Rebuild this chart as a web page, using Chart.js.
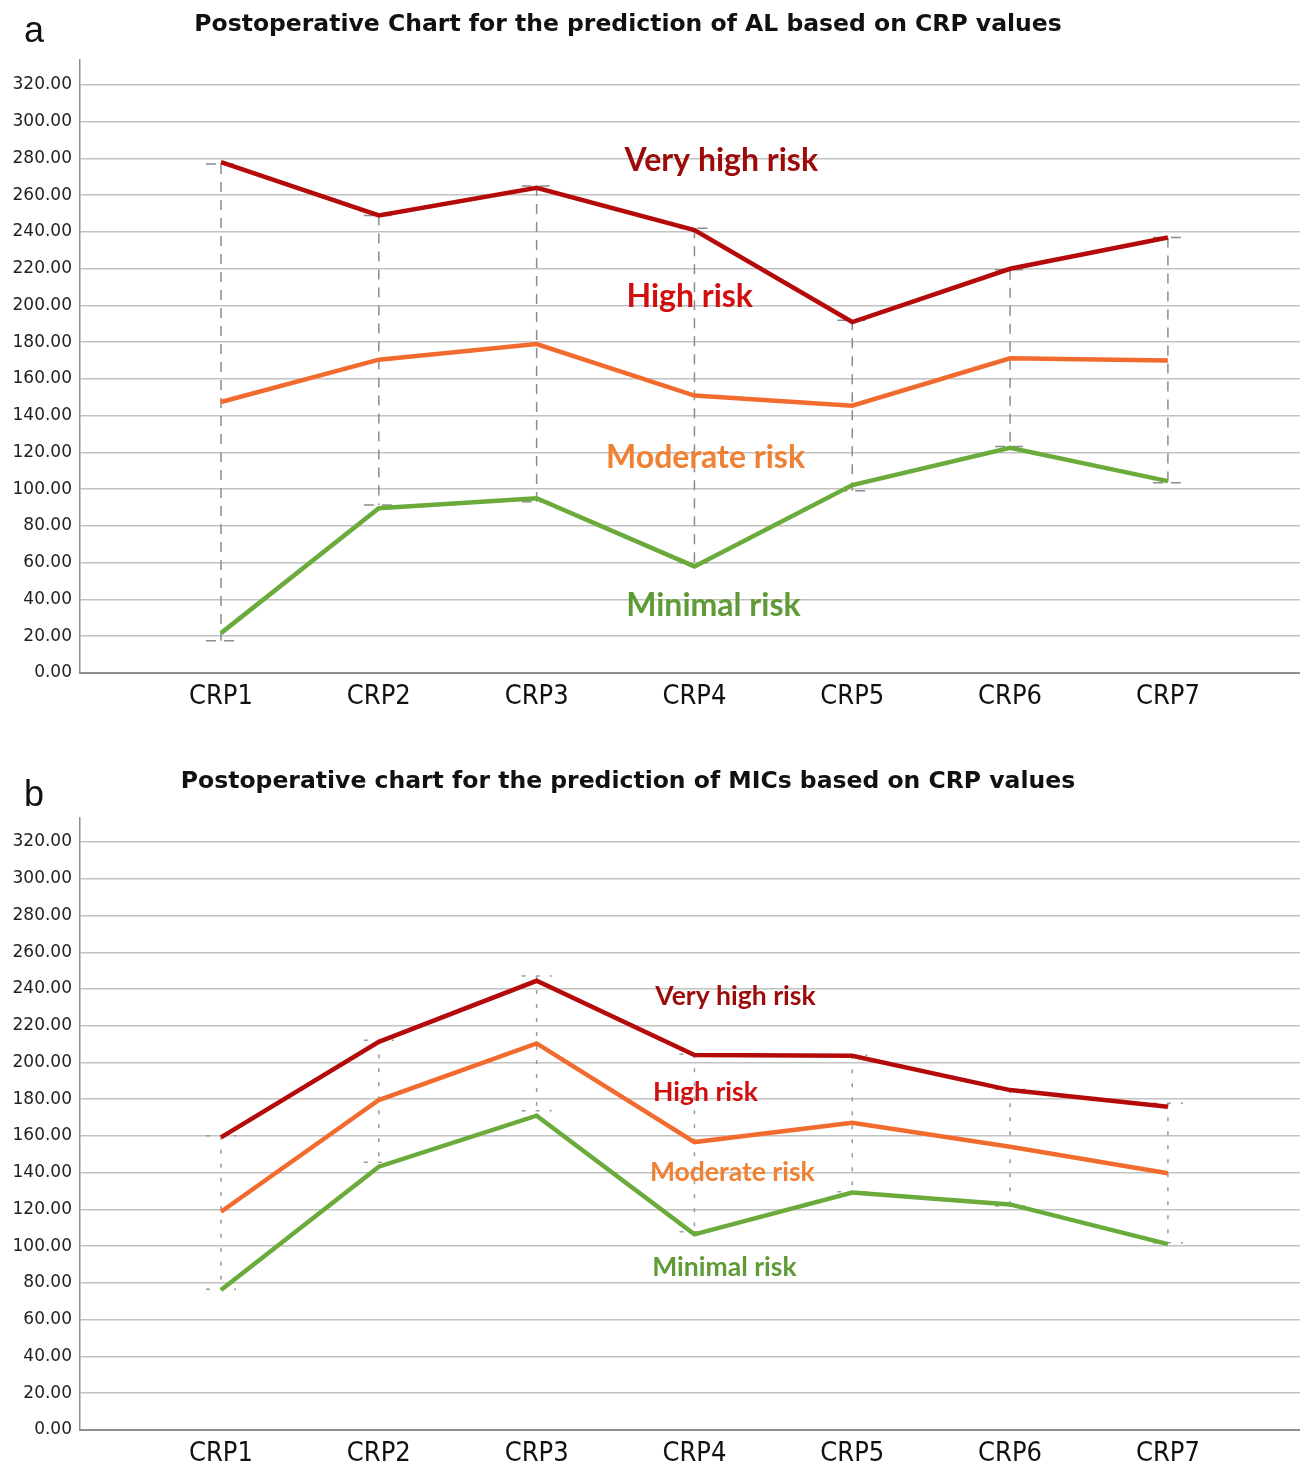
<!DOCTYPE html>
<html>
<head>
<meta charset="utf-8">
<script src="https://cdn.jsdelivr.net/npm/chart.js@4.4.1/dist/chart.umd.min.js"></script>
<style>
  html, body { margin: 0; padding: 0; background: #ffffff; }
  body { width: 1300px; height: 1465px; position: relative; overflow: hidden; }
  .panel { position: absolute; left: 0; width: 1300px; }
  #pa { top: 0; height: 740px; }
  #pb { top: 760px; height: 705px; }
</style>
</head>
<body>
<div class="panel" id="pa"><canvas id="chartA"></canvas></div>
<div class="panel" id="pb"><canvas id="chartB"></canvas></div>
<script>
// ---------- data ----------
const categories = ['CRP1', 'CRP2', 'CRP3', 'CRP4', 'CRP5', 'CRP6', 'CRP7'];
const yTickValues = [0, 20, 40, 60, 80, 100, 120, 140, 160, 180, 200, 220, 240, 260, 280, 300, 320];
const riskLabels = ['Very high risk', 'High risk', 'Moderate risk', 'Minimal risk'];

const titleA = 'Postoperative Chart for the prediction of AL based on CRP values';
const titleB = 'Postoperative chart for the prediction of MICs based on CRP values';

// Panel a (AL)
const alVeryHigh = [278, 249, 264, 241, 191, 220, 237];
const alHigh     = [147.5, 170.5, 179, 151, 145.5, 171.3, 170];
const alMinimal  = [21.7, 89.7, 95.1, 58, 102.3, 122.6, 104.4];
const alRangeHigh = [277, 249, 265, 242, 192, 219.5, 237];
const alRangeLow  = [17.6, 91.4, 93.2, 60, 99.2, 123.2, 103.6];

// Panel b (MICs)
const micVeryHigh = [159.3, 211.3, 244.5, 204.1, 203.7, 185, 176];
const micHigh     = [118.8, 179.6, 210.4, 156.7, 167.2, 154.2, 139.7];
const micMinimal  = [76.2, 143.3, 171.1, 106.5, 129.2, 122.8, 101.2];
const micRangeHigh = [160.2, 212.2, 247.1, 204.5, 204, 185.5, 177.8];
const micRangeLow  = [76.6, 145.7, 173.8, 107.9, 129.7, 121.9, 101.9];

// ---------- styles ----------
const lineColors = { veryHigh: '#b50a0a', high: '#f26b2e', minimal: '#6aab3c' };
const labelColors = ['#9c0a0a', '#d10f0f', '#f08034', '#5e9a36'];

// ---------- plugins ----------
const rangePlugin = {
  id: 'rangeBars',
  beforeDatasetsDraw(chart, args, opts) {
    const { ctx } = chart;
    const xs = chart.scales.x, ys = chart.scales.y;
    ctx.save();
    ctx.strokeStyle = opts.color;
    ctx.lineWidth = opts.width;
    ctx.setLineDash(opts.dash);
    opts.high.forEach((hv, i) => {
      const x = xs.getPixelForValue(i + 1);
      const yh = ys.getPixelForValue(hv);
      const yl = ys.getPixelForValue(opts.low[i]);
      ctx.beginPath();
      ctx.moveTo(x, yh); ctx.lineTo(x, yl);
      ctx.stroke();
      ctx.beginPath();
      ctx.moveTo(x - opts.cap, yh); ctx.lineTo(x + opts.cap, yh);
      ctx.moveTo(x - opts.cap, yl); ctx.lineTo(x + opts.cap, yl);
      ctx.stroke();
    });
    ctx.restore();
  }
};

const textPlugin = {
  id: 'texts',
  afterDraw(chart, args, opts) {
    const { ctx } = chart;
    const xs = chart.scales.x, ys = chart.scales.y;
    ctx.save();
    // title
    ctx.fillStyle = '#111';
    ctx.textAlign = 'center';
    ctx.textBaseline = 'middle';
    ctx.font = opts.titleFont;
    ctx.fillText(opts.title, opts.titleX, opts.titleY);
    // panel letter
    ctx.font = opts.letterFont;
    ctx.textBaseline = 'alphabetic';
    ctx.fillText(opts.letter, opts.letterX, opts.letterY);
    // zone labels
    ctx.textBaseline = 'middle';
    ctx.font = opts.labelFont;
    riskLabels.forEach((t, i) => {
      const p = opts.labelPos[i];
      ctx.fillStyle = labelColors[i];
      ctx.fillText(t, xs.getPixelForValue(p.x), ys.getPixelForValue(p.y));
    });
    ctx.restore();
  }
};

function makeChart(id, series, range, yMax, topPad, xAxisHeight, rangeStyle, textOpts) {
  const mk = (label, data, color) => ({
    label, data: data.map((v, i) => ({ x: i + 1, y: v })),
    borderColor: color, backgroundColor: color, borderWidth: 4.5,
    pointRadius: 0, tension: 0, fill: false, borderJoinStyle: 'miter'
  });
  return new Chart(document.getElementById(id), {
    type: 'line',
    data: {
      datasets: [
        mk('Very high / high boundary', series[0], lineColors.veryHigh),
        mk('High / moderate boundary', series[1], lineColors.high),
        mk('Moderate / minimal boundary', series[2], lineColors.minimal)
      ]
    },
    options: {
      responsive: true, maintainAspectRatio: false, animation: false,
      devicePixelRatio: 1,
      layout: { padding: { top: topPad, left: 0, right: 0, bottom: 0 } },
      plugins: {
        legend: { display: false }, tooltip: { enabled: false }, title: { display: false },
        rangeBars: Object.assign({ high: range[0], low: range[1] }, rangeStyle),
        texts: textOpts
      },
      scales: {
        x: {
          type: 'linear', min: 0.1066, max: 7.837,
          afterBuildTicks: s => { s.ticks = categories.map((c, i) => ({ value: i + 1 })); },
          ticks: {
            callback: v => categories[Math.round(v) - 1] || '',
            font: { family: 'DejaVu Sans Condensed, DejaVu Sans', size: 27 },
            color: '#111', padding: 8, maxRotation: 0, autoSkip: false
          },
          grid: { display: false, drawTicks: false },
          border: { display: true, color: '#8f8f8f', width: 2 },
          afterFit: s => { s.height = xAxisHeight; }
        },
        y: {
          min: 0, max: yMax,
          afterBuildTicks: s => { s.ticks = yTickValues.map(v => ({ value: v })); },
          ticks: {
            callback: v => Number(v).toFixed(2),
            font: { family: 'DejaVu Sans', size: 17 },
            color: '#222', padding: 8
          },
          grid: { color: '#c2c2c2', lineWidth: 1.6, drawTicks: false },
          border: { display: true, color: '#8f8f8f', width: 1.5 },
          afterFit: s => { s.width = 80; }
        }
      }
    },
    plugins: [rangePlugin, textPlugin]
  });
}

makeChart('chartA', [alVeryHigh, alHigh, alMinimal], [alRangeHigh, alRangeLow], 333.6, 60, 67,
  { color: '#8c8c8c', width: 1.5, dash: [10, 8], cap: 15 },
  {
    title: titleA, titleX: 628, titleY: 25,
    titleFont: 'bold 23.5px "DejaVu Sans"',
    letter: 'a', letterX: 34, letterY: 42, letterFont: '36px "Liberation Sans"',
    labelFont: 'bold 32px Lato',
    labelPos: [{ x: 4.17, y: 278.6 }, { x: 3.97, y: 204.6 }, { x: 4.07, y: 117 }, { x: 4.12, y: 36.5 }]
  });

makeChart('chartB', [micVeryHigh, micHigh, micMinimal], [micRangeHigh, micRangeLow], 333.1, 58, 35,
  { color: '#9a9a9a', width: 1.5, dash: [4, 10], cap: 15 },
  {
    title: titleB, titleX: 628, titleY: 22,
    titleFont: 'bold 23.5px "DejaVu Sans"',
    letter: 'b', letterX: 34, letterY: 46, letterFont: '36px "Liberation Sans"',
    labelFont: 'bold 26.5px Lato',
    labelPos: [{ x: 4.26, y: 236.2 }, { x: 4.07, y: 183.9 }, { x: 4.24, y: 140.4 }, { x: 4.19, y: 88.2 }]
  });
</script>
</body>
</html>
